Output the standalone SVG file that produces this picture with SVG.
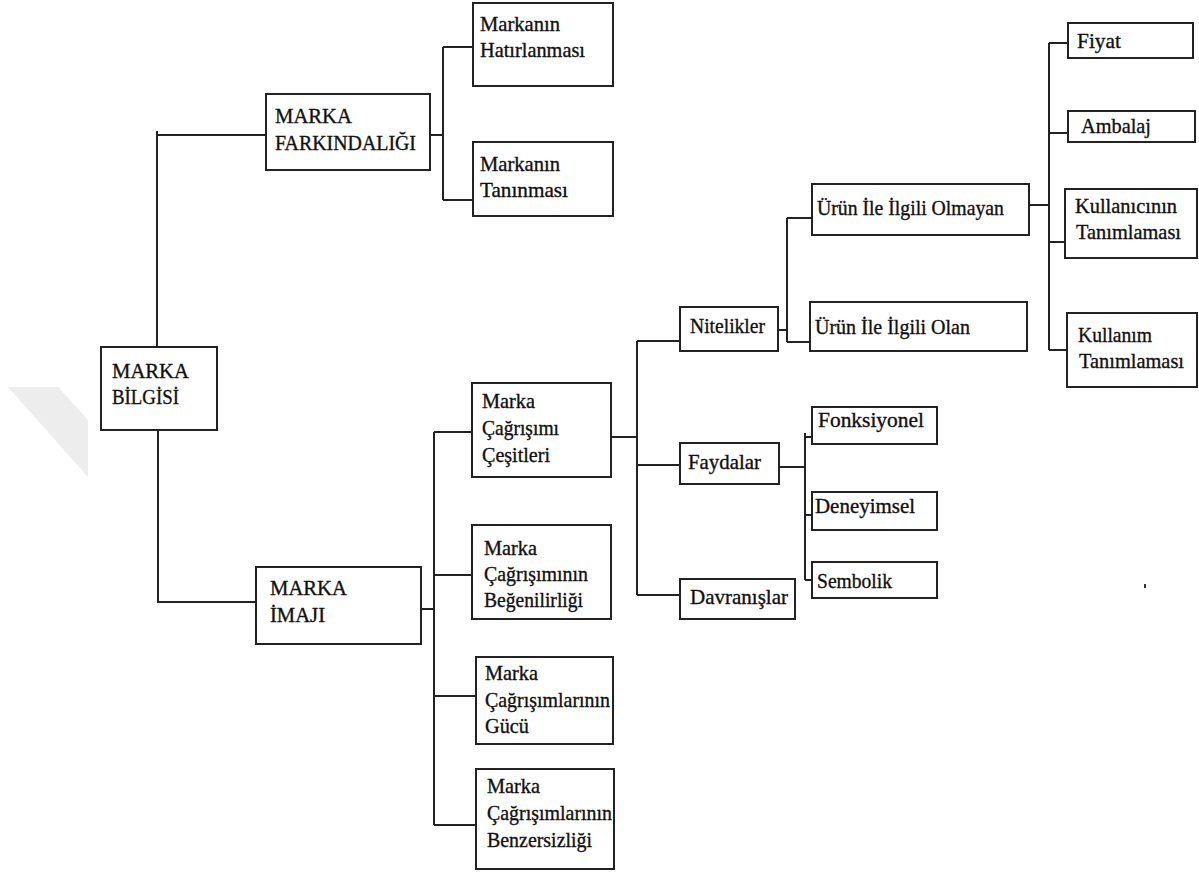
<svg xmlns="http://www.w3.org/2000/svg" width="1199" height="873" viewBox="0 0 1199 873">
<style>
.box{fill:#fff;stroke:#222;stroke-width:2}
.c{fill:none;stroke:#222;stroke-width:2}
.t text{font-size:21px;fill:#111;stroke:#111;stroke-width:0.35}
</style>
<rect width="1199" height="873" fill="#fff"/>
<polygon points="8,387 58,387 88,420 88,477" fill="#ededed"/>
<g id="connectors">
<path class="c" d="M157,347 V131 M157,135 H266"/>
<path class="c" d="M158,430 V602 H256"/>
<path class="c" d="M430,135 H443 M443,47 V200 M443,47 H473 M443,200 H473"/>
<path class="c" d="M421,609 H434 M434,432 V825 M434,432 H472 M434,575 H472 M434,696 H476 M434,825 H476"/>
<path class="c" d="M611,437 H637 M637,341 V595 M637,341 H680 M637,465 H680 M637,595 H680"/>
<path class="c" d="M778,330 H787 M787,218 V342 M787,218 H812 M787,342 H810"/>
<path class="c" d="M1029,205 H1049 M1049,43 V350 M1049,43 H1068 M1049,133 H1068 M1049,242 H1065 M1049,350 H1067"/>
<path class="c" d="M779,467 H806 M805,433 V580 M805,437 H812 M805,515 H812 M805,580 H812"/>
</g>
<g class="t" font-family="'Liberation Serif', 'DejaVu Serif', 'Times New Roman', serif">
<g id="marka-bilgisi"><rect class="box" x="101" y="347" width="116" height="83"/><text x="112" y="378" textLength="77" lengthAdjust="spacingAndGlyphs">MARKA</text><text x="112" y="404" textLength="67" lengthAdjust="spacingAndGlyphs">BİLGİSİ</text></g>
<g id="marka-farkindaligi"><rect class="box" x="266" y="94" width="164" height="76"/><text x="275" y="123" textLength="77" lengthAdjust="spacingAndGlyphs">MARKA</text><text x="275" y="150" textLength="141" lengthAdjust="spacingAndGlyphs">FARKINDALIĞI</text></g>
<g id="markanin-hatirlanmasi"><rect class="box" x="473" y="3" width="140" height="83"/><text x="480" y="31" textLength="80" lengthAdjust="spacingAndGlyphs">Markanın</text><text x="480" y="57" textLength="105" lengthAdjust="spacingAndGlyphs">Hatırlanması</text></g>
<g id="markanin-taninmasi"><rect class="box" x="473" y="142" width="140" height="74"/><text x="480" y="171" textLength="80" lengthAdjust="spacingAndGlyphs">Markanın</text><text x="480" y="197" textLength="88" lengthAdjust="spacingAndGlyphs">Tanınması</text></g>
<g id="marka-imaji"><rect class="box" x="256" y="567" width="165" height="77"/><text x="270" y="595" textLength="77" lengthAdjust="spacingAndGlyphs">MARKA</text><text x="270" y="622" textLength="55" lengthAdjust="spacingAndGlyphs">İMAJI</text></g>
<g id="cagrisim-cesitleri"><rect class="box" x="472" y="383" width="139" height="94"/><text x="482" y="408" textLength="53" lengthAdjust="spacingAndGlyphs">Marka</text><text x="482" y="435" textLength="77" lengthAdjust="spacingAndGlyphs">Çağrışımı</text><text x="482" y="462" textLength="68" lengthAdjust="spacingAndGlyphs">Çeşitleri</text></g>
<g id="cagrisim-begenilirligi"><rect class="box" x="472" y="525" width="139" height="94"/><text x="484" y="555" textLength="53" lengthAdjust="spacingAndGlyphs">Marka</text><text x="484" y="581" textLength="104" lengthAdjust="spacingAndGlyphs">Çağrışımının</text><text x="484" y="607" textLength="99" lengthAdjust="spacingAndGlyphs">Beğenilirliği</text></g>
<g id="cagrisim-gucu"><rect class="box" x="476" y="657" width="137" height="87"/><text x="485" y="680" textLength="53" lengthAdjust="spacingAndGlyphs">Marka</text><text x="485" y="707" textLength="125" lengthAdjust="spacingAndGlyphs">Çağrışımlarının</text><text x="485" y="733" textLength="44" lengthAdjust="spacingAndGlyphs">Gücü</text></g>
<g id="cagrisim-benzersizligi"><rect class="box" x="476" y="769" width="138" height="100"/><text x="487" y="793" textLength="53" lengthAdjust="spacingAndGlyphs">Marka</text><text x="487" y="820" textLength="125" lengthAdjust="spacingAndGlyphs">Çağrışımlarının</text><text x="487" y="847" textLength="105" lengthAdjust="spacingAndGlyphs">Benzersizliği</text></g>
<g id="nitelikler"><rect class="box" x="680" y="307" width="98" height="44"/><text x="690" y="333" textLength="75" lengthAdjust="spacingAndGlyphs">Nitelikler</text></g>
<g id="faydalar"><rect class="box" x="680" y="443" width="99" height="41"/><text x="688" y="469" textLength="73" lengthAdjust="spacingAndGlyphs">Faydalar</text></g>
<g id="davranislar"><rect class="box" x="680" y="579" width="115" height="40"/><text x="690" y="604" textLength="98" lengthAdjust="spacingAndGlyphs">Davranışlar</text></g>
<g id="urun-olmayan"><rect class="box" x="812" y="184" width="217" height="51"/><text x="817" y="215" textLength="187" lengthAdjust="spacingAndGlyphs">Ürün İle İlgili Olmayan</text></g>
<g id="urun-olan"><rect class="box" x="810" y="302" width="217" height="49"/><text x="815" y="334" textLength="155" lengthAdjust="spacingAndGlyphs">Ürün İle İlgili Olan</text></g>
<g id="fiyat"><rect class="box" x="1068" y="23" width="125" height="35"/><text x="1077" y="48" textLength="44" lengthAdjust="spacingAndGlyphs">Fiyat</text></g>
<g id="ambalaj"><rect class="box" x="1068" y="111" width="127" height="31"/><text x="1081" y="133" textLength="70" lengthAdjust="spacingAndGlyphs">Ambalaj</text></g>
<g id="kullanicinin-tanimlamasi"><rect class="box" x="1065" y="189" width="132" height="69"/><text x="1075" y="213" textLength="102" lengthAdjust="spacingAndGlyphs">Kullanıcının</text><text x="1076" y="239" textLength="105" lengthAdjust="spacingAndGlyphs">Tanımlaması</text></g>
<g id="kullanim-tanimlamasi"><rect class="box" x="1067" y="313" width="130" height="74"/><text x="1078" y="342" textLength="74" lengthAdjust="spacingAndGlyphs">Kullanım</text><text x="1079" y="368" textLength="105" lengthAdjust="spacingAndGlyphs">Tanımlaması</text></g>
<g id="fonksiyonel"><rect class="box" x="812" y="407" width="125" height="37"/><text x="818" y="427" textLength="106" lengthAdjust="spacingAndGlyphs">Fonksiyonel</text></g>
<g id="deneyimsel"><rect class="box" x="812" y="492" width="125" height="38"/><text x="815" y="513" textLength="100" lengthAdjust="spacingAndGlyphs">Deneyimsel</text></g>
<g id="sembolik"><rect class="box" x="812" y="562" width="125" height="36"/><text x="817" y="588" textLength="75" lengthAdjust="spacingAndGlyphs">Sembolik</text></g>
</g>
<rect x="1144" y="584" width="2" height="4" fill="#333"/>
</svg>
